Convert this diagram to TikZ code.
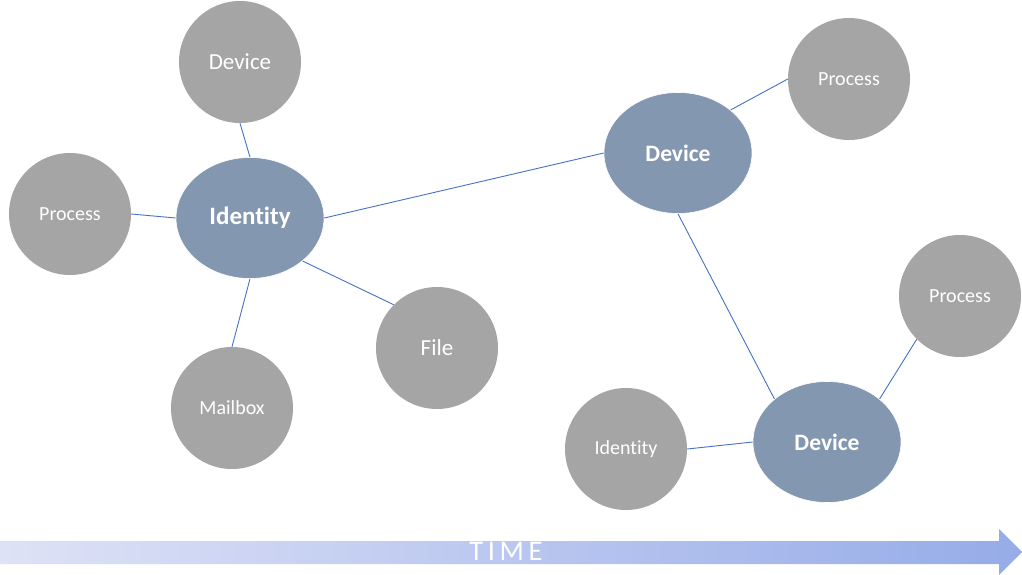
\documentclass[tikz,border=0pt]{standalone}
\usepackage{fontspec}
\setmainfont{Carlito}[Ligatures=CommonOff]
\usetikzlibrary{shapes.geometric}
\definecolor{ellfill}{RGB}{132,151,176}
\definecolor{grayfill}{RGB}{165,165,165}
\definecolor{linkblue}{RGB}{68,114,196}
\definecolor{timeL}{RGB}{222,226,246}
\definecolor{timeR}{RGB}{150,172,232}
\tikzset{
  mainell/.style={ellipse, fill=ellfill, draw=white, line width=0.6pt, minimum width=148pt, minimum height=121pt, inner sep=0pt, text=white, font=\fontsize{23.5}{26}\selectfont\bfseries},
  sidecirc/.style={circle, fill=grayfill, minimum size=122pt, inner sep=0pt, text=white, font=\fontsize{20}{23}\selectfont},
  bigtxt/.style={font=\fontsize{23}{26}\selectfont},
  link/.style={draw=linkblue, line width=0.9pt}
}
\begin{document}
\begin{tikzpicture}[x=1pt,y=-1pt]
\useasboundingbox (0,0) rectangle (1022,575);
% time arrow
\shade[left color=timeL, right color=timeR] (0,541) -- (999,541) -- (999,529) -- (1022,552) -- (999,575) -- (999,564) -- (0,564) -- cycle;
\node[text=white, font=\fontsize{28.5}{31}\selectfont\addfontfeature{LetterSpace=16}] (time) at (506,551) {TIME};
% nodes
\node[mainell, font=\fontsize{25}{28}\selectfont\bfseries] (id1) at (250,218) {Identity};
\node[sidecirc, bigtxt] (dev1) at (240,62) {Device};
\node[sidecirc] (proc1) at (70,214) {Process};
\node[sidecirc, bigtxt] (file) at (437,348) {File};
\node[sidecirc] (mail) at (232,408) {Mailbox};
\node[mainell] (dev2) at (678,153) {Device};
\node[sidecirc] (proc2) at (849,79) {Process};
\node[mainell] (dev3) at (827,442) {Device};
\node[sidecirc] (proc3) at (960,296) {Process};
\node[sidecirc] (id2) at (626,449) {Identity};
% links
\draw[link] (id1.north) -- (dev1.south);
\draw[link] (id1.west) -- (proc1.east);
\draw[link] (id1.south) -- (mail.north);
\draw[link] (id1.south east) -- (file.north west);
\draw[link] (id1.east) -- (dev2.west);
\draw[link] (dev2.north east) -- (proc2.west);
\draw[link] (dev2.south) -- (dev3.north west);
\draw[link] (dev3.north east) -- (proc3.south west);
\draw[link] (dev3.west) -- (id2.east);
\end{tikzpicture}
\end{document}
